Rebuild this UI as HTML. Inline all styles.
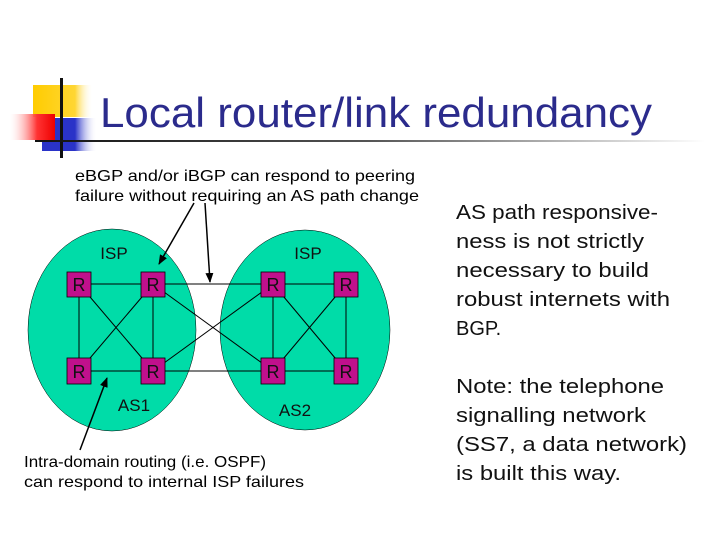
<!DOCTYPE html>
<html><head><meta charset="utf-8"><style>html,body{margin:0;padding:0;background:#fff}svg{display:block}</style></head>
<body>
<svg width="720" height="540" viewBox="0 0 720 540" xmlns="http://www.w3.org/2000/svg" font-family="Liberation Sans, Arial, sans-serif">
<defs>
<linearGradient id="red" x1="0" x2="1" y1="0" y2="0"><stop offset="0" stop-color="#fff" stop-opacity="0.2"/><stop offset="0.6" stop-color="#f33"/><stop offset="1" stop-color="#e00"/></linearGradient>
<linearGradient id="blue" x1="0" x2="1"><stop offset="0" stop-color="#2a33c8"/><stop offset="0.6" stop-color="#2a33c8"/><stop offset="1" stop-color="#fff" stop-opacity="0"/></linearGradient>
<linearGradient id="yel" x1="0" x2="1"><stop offset="0" stop-color="#ffcc00"/><stop offset="0.7" stop-color="#ffd633"/><stop offset="1" stop-color="#fff" stop-opacity="0"/></linearGradient>
<linearGradient id="hl" x1="0" x2="1"><stop offset="0" stop-color="#111"/><stop offset="0.5" stop-color="#555"/><stop offset="1" stop-color="#fff"/></linearGradient>
<marker id="ah" markerWidth="10" markerHeight="10" refX="9" refY="5" orient="auto" markerUnits="userSpaceOnUse"><path d="M0,1 L10,5 L0,9 z" fill="#000"/></marker>
</defs>
<!-- decoration -->
<rect x="33" y="85" width="60" height="32" fill="url(#yel)"/>
<rect x="42" y="118" width="55" height="33" fill="url(#blue)"/>
<rect x="10" y="114" width="45" height="26" fill="url(#red)"/>
<rect x="60" y="78" width="3" height="80" fill="#111"/>
<rect x="35" y="140" width="670" height="2" fill="url(#hl)"/>
<text x="100" y="127" font-size="42" fill="#2b2b8c" textLength="552" lengthAdjust="spacingAndGlyphs">Local router/link redundancy</text>
<text x="75" y="181" font-size="16" textLength="340" lengthAdjust="spacingAndGlyphs">eBGP and/or iBGP can respond to peering</text>
<text x="75" y="201" font-size="16" textLength="344" lengthAdjust="spacingAndGlyphs">failure without requiring an AS path change</text>
<!-- ellipses -->
<ellipse cx="112" cy="330" rx="84" ry="101" fill="#00dca8" stroke="#000" stroke-width="0.5"/>
<ellipse cx="305" cy="330" rx="85" ry="100" fill="#00dca8" stroke="#000" stroke-width="0.5"/>
<g stroke="#000" stroke-width="1">
<line x1="79" y1="284" x2="153" y2="284"/><line x1="79" y1="371" x2="153" y2="371"/>
<line x1="79" y1="284" x2="79" y2="371"/><line x1="153" y1="284" x2="153" y2="371"/>
<line x1="79" y1="284" x2="153" y2="371"/><line x1="79" y1="371" x2="153" y2="284"/>
<line x1="273" y1="284" x2="346" y2="284"/><line x1="273" y1="371" x2="346" y2="371"/>
<line x1="273" y1="284" x2="273" y2="371"/><line x1="346" y1="284" x2="346" y2="371"/>
<line x1="273" y1="284" x2="346" y2="371"/><line x1="273" y1="371" x2="346" y2="284"/>
<line x1="153" y1="284" x2="273" y2="284"/><line x1="153" y1="371" x2="273" y2="371"/>
<line x1="153" y1="284" x2="273" y2="371"/><line x1="153" y1="371" x2="273" y2="284"/>
</g>
<g fill="#c0108c" stroke="#000" stroke-width="0.8">
<rect x="67" y="272" width="24" height="25"/><rect x="141" y="272" width="24" height="25"/>
<rect x="261" y="272" width="24" height="25"/><rect x="334" y="272" width="24" height="25"/>
<rect x="67" y="358" width="24" height="26"/><rect x="141" y="358" width="24" height="26"/>
<rect x="261" y="358" width="24" height="26"/><rect x="334" y="358" width="24" height="26"/>
</g>
<g font-size="18" fill="#111" text-anchor="middle">
<text x="79" y="291">R</text><text x="153" y="291">R</text><text x="273" y="291">R</text><text x="346" y="291">R</text>
<text x="79" y="378">R</text><text x="153" y="378">R</text><text x="273" y="378">R</text><text x="346" y="378">R</text>
</g>
<g font-size="17" fill="#111" text-anchor="middle">
<text x="114" y="259">ISP</text><text x="308" y="259">ISP</text>
<text x="134" y="411">AS1</text><text x="295" y="416">AS2</text>
</g>
<g stroke="#000" stroke-width="1.5">
<line x1="194" y1="203" x2="159" y2="264" marker-end="url(#ah)"/>
<line x1="205" y1="203" x2="210" y2="282" marker-end="url(#ah)"/>
<line x1="80" y1="450" x2="107" y2="378" marker-end="url(#ah)"/>
</g>
<text x="24" y="467" font-size="16" textLength="242" lengthAdjust="spacingAndGlyphs">Intra-domain routing (i.e. OSPF)</text>
<text x="24" y="487" font-size="16" textLength="280" lengthAdjust="spacingAndGlyphs">can respond to internal ISP failures</text>
<g font-size="20" fill="#111">
<text x="456" y="219" textLength="202" lengthAdjust="spacingAndGlyphs">AS path responsive-</text>
<text x="456" y="248" textLength="188" lengthAdjust="spacingAndGlyphs">ness is not strictly</text>
<text x="456" y="277" textLength="193" lengthAdjust="spacingAndGlyphs">necessary to build</text>
<text x="456" y="306" textLength="214" lengthAdjust="spacingAndGlyphs">robust internets with</text>
<text x="456" y="335">BGP.</text>
<text x="456" y="393" textLength="208" lengthAdjust="spacingAndGlyphs">Note: the telephone</text>
<text x="456" y="422" textLength="190" lengthAdjust="spacingAndGlyphs">signalling network</text>
<text x="456" y="451" textLength="231" lengthAdjust="spacingAndGlyphs">(SS7, a data network)</text>
<text x="456" y="480" textLength="165" lengthAdjust="spacingAndGlyphs">is built this way.</text>
</g>
</svg>
</body></html>
